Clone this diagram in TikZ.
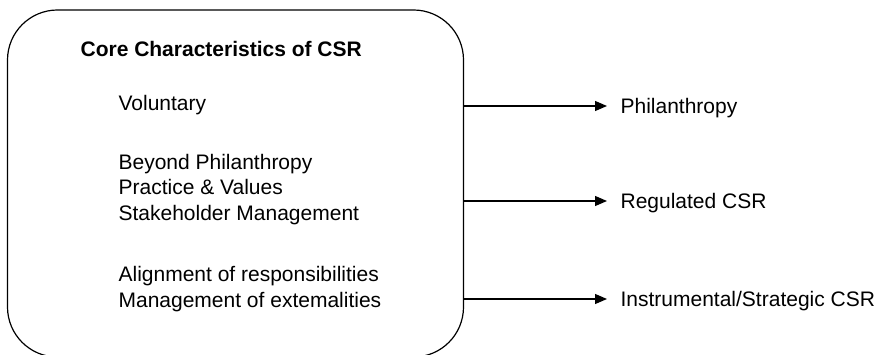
\documentclass[tikz,border=0pt]{standalone}
\usepackage{fontspec}
\setmainfont{Liberation Sans}
\usetikzlibrary{arrows.meta}
\begin{document}
\begin{tikzpicture}[x=1pt, y=-1pt, line width=1.2pt, >={Triangle[length=12pt,width=10pt]}]
    \tikzstyle{csrbox}=[draw=black, rounded corners=50pt, minimum width=456pt, minimum height=347pt, inner sep=0pt]
    \tikzstyle{trait}=[anchor=base west, inner sep=0pt, font=\fontsize{21}{25}\selectfont]
    \tikzstyle{outcome}=[anchor=west, inner sep=0pt, text height=15pt, text depth=0pt, font=\fontsize{21}{25}\selectfont]
    \useasboundingbox (0,0) rectangle (882,355);

    \node[csrbox] (core) at (235.5,183.5) {};
    \node[trait, font=\fontsize{21}{25}\selectfont\bfseries] (title) at (80,57) {Core Characteristics of CSR};

    \foreach \name/\y/\text in {1/111/Voluntary, 2/170/Beyond Philanthropy, 3/195/Practice \& Values, 4/220/Stakeholder Management, 5/281/Alignment of responsibilities, 6/307/Management of extemalities}
    \node[trait] (trait-\name) at (118,\y) {\text};

    \foreach \name/\y/\text in {1/106/Philanthropy, 2/201/Regulated CSR, 3/299/{Instrumental/Strategic CSR}}
    {
    \node[outcome] (out-\name) at (620,\y) {\text};
    \draw[->, shorten >=13pt] (core.east |- out-\name.west) -- (out-\name.west);
    }
\end{tikzpicture}
\end{document}
